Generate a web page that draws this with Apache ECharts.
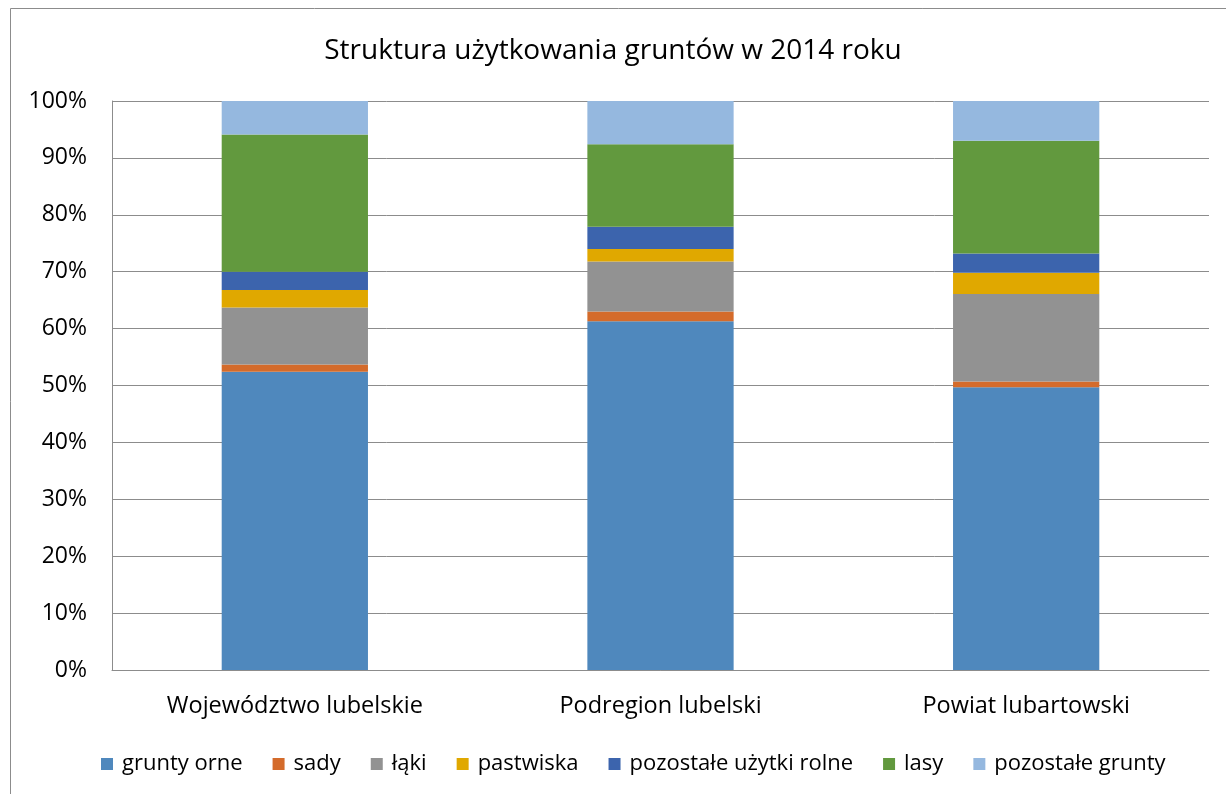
<!DOCTYPE html>
<html><head><meta charset="utf-8">
<script src="https://cdn.jsdelivr.net/npm/echarts@6/dist/echarts.min.js"></script>
<style>html,body{margin:0;padding:0;background:#fff}#c{width:1226px;height:794px}</style>
</head><body><div id="c"></div>
<script>
const categories = ['Województwo lubelskie', 'Podregion lubelski', 'Powiat lubartowski'];
const seriesNames = ['grunty orne', 'sady', 'łąki', 'pastwiska', 'pozostałe użytki rolne', 'lasy', 'pozostałe grunty'];
const gruntyOrne = [52.4, 61.3, 49.7];
const sady = [1.3, 1.7, 1.0];
const laki = [10.0, 8.8, 15.4];
const pastwiska = [3.1, 2.2, 3.7];
const pozostaleUzytki = [3.2, 3.9, 3.4];
const lasy = [24.1, 14.5, 19.8];
const pozostaleGrunty = [5.9, 7.6, 7.0];
const yTicks = [0, 10, 20, 30, 40, 50, 60, 70, 80, 90, 100];
const colors = ['#4F88BD', '#D46B2B', '#929292', '#E0A800', '#3C64AD', '#62993E', '#95B8DF'];
const values = [gruntyOrne, sady, laki, pastwiska, pozostaleUzytki, lasy, pozostaleGrunty];
const FONT = '"Open Sans", sans-serif';

const chart = echarts.init(document.getElementById('c'), null, {renderer: 'canvas'});
chart.setOption({
  animation: false,
  backgroundColor: '#fff',
  graphic: [{type: 'rect', shape: {x: 10.5, y: 8.5, width: 1240, height: 800}, style: {fill: 'none', stroke: '#8c8c8c', lineWidth: 1}, z: -1}],
  title: {text: 'Struktura użytkowania gruntów w 2014 roku', left: 'center', top: 32,
    textStyle: {fontFamily: FONT, fontSize: 28, fontWeight: 'normal', color: '#000'}},
  legend: {top: 748, left: 96, itemWidth: 12, itemHeight: 12, itemGap: 30,
    icon: 'rect', textStyle: {fontFamily: FONT, fontSize: 22, color: '#000', padding: [0, 0, 0, 4]}, data: seriesNames},
  grid: {left: 112, right: 17, top: 101, bottom: 124, containLabel: false},
  xAxis: {type: 'category', data: categories,
    axisLine: {show: true, lineStyle: {color: '#8c8c8c'}}, axisTick: {show: false},
    axisLabel: {fontFamily: FONT, fontSize: 23.5, color: '#000', margin: 24}},
  yAxis: {type: 'value', min: 0, max: 100, interval: 10,
    axisLine: {show: true, lineStyle: {color: '#8c8c8c'}}, axisTick: {show: false},
    splitLine: {lineStyle: {color: '#8c8c8c'}},
    axisLabel: {fontFamily: FONT, fontSize: 23, color: '#000', margin: 25, formatter: v => yTicks.includes(v) ? v + '%' : ''}},
  series: seriesNames.map((n, i) => ({
    name: n, type: 'bar', stack: 'total', barWidth: '40%', data: values[i],
    itemStyle: {color: colors[i]}
  }))
});
</script></body></html>
